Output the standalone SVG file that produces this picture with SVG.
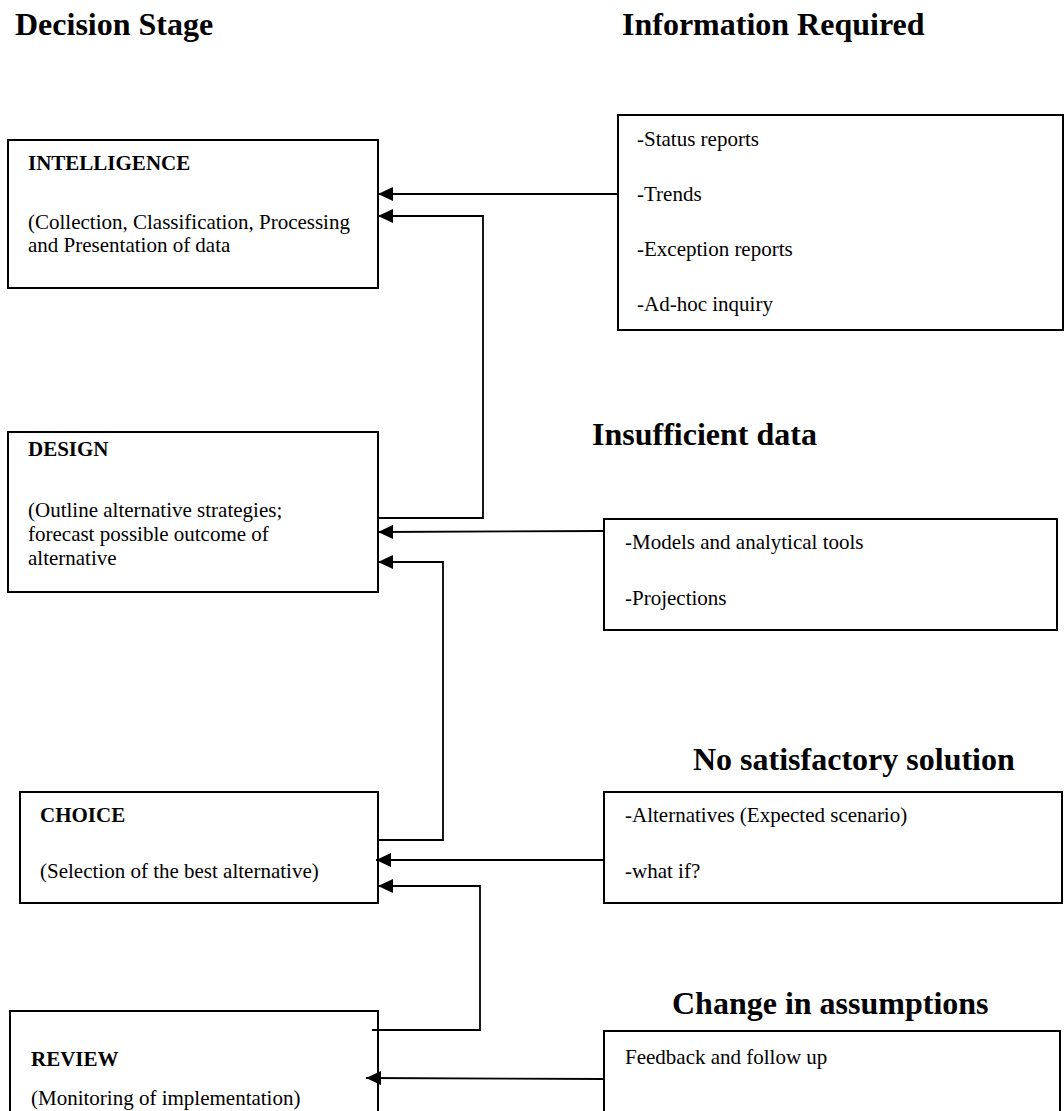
<svg xmlns="http://www.w3.org/2000/svg" width="1064" height="1111" viewBox="0 0 1064 1111">
  <style>
    .box { fill: #ffffff; stroke: #000000; stroke-width: 2; }
    .head { font-family: "Liberation Serif", "Times New Roman", serif; font-weight: bold; font-size: 32px; fill: #000000; }
    .title { font-family: "Liberation Serif", "Times New Roman", serif; font-weight: bold; font-size: 21px; fill: #000000; }
    .body { font-family: "Liberation Serif", "Times New Roman", serif; font-size: 21px; fill: #000000; }
    .link { fill: none; stroke: #000000; stroke-width: 1.8; }
  </style>
  <defs>
    <marker id="arrow" viewBox="0 0 15 14" refX="15" refY="7" markerWidth="15" markerHeight="14" markerUnits="userSpaceOnUse" orient="auto">
      <path d="M0,0 L15,7 L0,14 z" fill="#000000"/>
    </marker>
  </defs>
  <rect width="1064" height="1111" fill="#ffffff"/>

  <!-- column headings -->
  <g id="headings">
    <text class="head" x="15" y="35">Decision Stage</text>
    <text class="head" x="622" y="35">Information Required</text>
    <text class="head" x="592" y="445">Insufficient data</text>
    <text class="head" x="693" y="770">No satisfactory solution</text>
    <text class="head" x="672" y="1014">Change in assumptions</text>
  </g>

  <!-- decision stages -->
  <g id="intelligence">
    <rect class="box" x="8" y="140" width="370" height="148"/>
    <text class="title" x="28" y="170">INTELLIGENCE</text>
    <text class="body" x="28" y="229">(Collection, Classification, Processing</text>
    <text class="body" x="28" y="252">and Presentation of data</text>
  </g>
  <g id="design">
    <rect class="box" x="8" y="432" width="370" height="160"/>
    <text class="title" x="28" y="456">DESIGN</text>
    <text class="body" x="28" y="517">(Outline alternative strategies;</text>
    <text class="body" x="28" y="541">forecast possible outcome of</text>
    <text class="body" x="28" y="565">alternative</text>
  </g>
  <g id="choice">
    <rect class="box" x="20" y="792" width="358" height="111"/>
    <text class="title" x="40" y="822">CHOICE</text>
    <text class="body" x="40" y="878">(Selection of the best alternative)</text>
  </g>
  <g id="review">
    <rect class="box" x="10" y="1011" width="368" height="130"/>
    <text class="title" x="31" y="1066">REVIEW</text>
    <text class="body" x="31" y="1105">(Monitoring of implementation)</text>
  </g>

  <!-- information sources -->
  <g id="info-reports">
    <rect class="box" x="618" y="115" width="445" height="215"/>
    <text class="body" x="637" y="146">-Status reports</text>
    <text class="body" x="637" y="201">-Trends</text>
    <text class="body" x="637" y="256">-Exception reports</text>
    <text class="body" x="637" y="311">-Ad-hoc inquiry</text>
  </g>
  <g id="info-models">
    <rect class="box" x="604" y="519" width="453" height="111"/>
    <text class="body" x="625" y="549">-Models and analytical tools</text>
    <text class="body" x="625" y="605">-Projections</text>
  </g>
  <g id="info-alternatives">
    <rect class="box" x="604" y="792" width="458" height="111"/>
    <text class="body" x="625" y="822">-Alternatives (Expected scenario)</text>
    <text class="body" x="625" y="878">-what if?</text>
  </g>
  <g id="info-feedback">
    <rect class="box" x="604" y="1031" width="456" height="110"/>
    <text class="body" x="625" y="1064">Feedback and follow up</text>
  </g>

  <!-- connectors -->
  <g id="connectors">
    <path class="link" d="M618,194 L378,194" marker-end="url(#arrow)"/>
    <path class="link" d="M378,518 L483,518 L483,216 L378,216" marker-end="url(#arrow)"/>
    <path class="link" d="M604,531 L378,532" marker-end="url(#arrow)"/>
    <path class="link" d="M378,840 L443,840 L443,562 L378,562" marker-end="url(#arrow)"/>
    <path class="link" d="M604,860 L376,860" marker-end="url(#arrow)"/>
    <path class="link" d="M372,1030 L480,1030 L480,886 L378,886" marker-end="url(#arrow)"/>
    <path class="link" d="M604,1079 L366,1078" marker-end="url(#arrow)"/>
  </g>
</svg>
